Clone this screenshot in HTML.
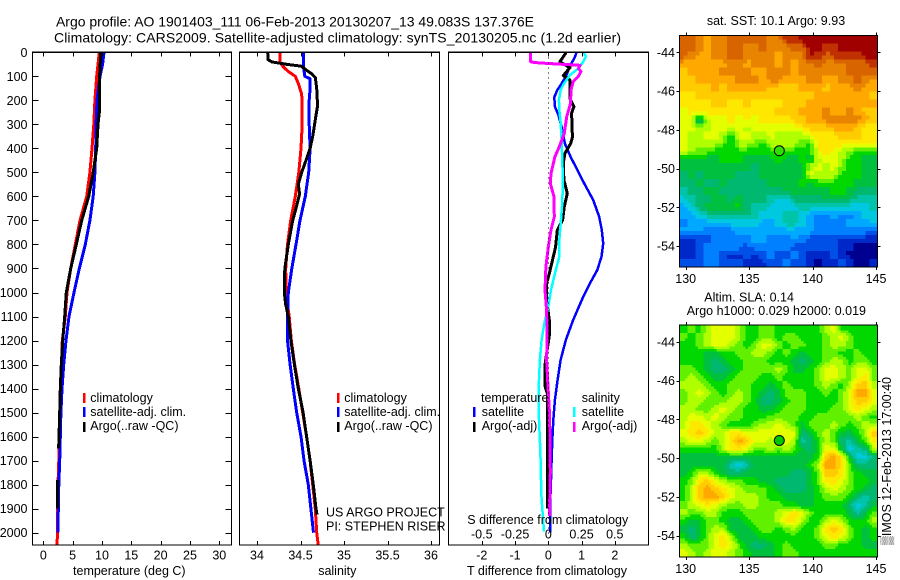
<!DOCTYPE html>
<html lang="en">
<head>
<meta charset="utf-8">
<title>Argo profile 1901403_111</title>
<style>
html,body{margin:0;padding:0;background:#fff;}
#figure{display:block;width:900px;height:580px;font-family:"Liberation Sans",sans-serif;fill:#000;}
#figure text{font-size:12.5px;}
#figure text.title{font-size:14px;}
</style>
</head>
<body>
<svg id="figure" xmlns="http://www.w3.org/2000/svg" width="900" height="580" viewBox="0 0 900 580">
  <g id="maps"></g>
  <g id="lines"></g>
  <g id="axes"></g>
  <g>
    <text class="title" x="56" y="26.5" textLength="478">Argo profile: AO 1901403_111 06-Feb-2013 20130207_13 49.083S 137.376E</text>
    <text class="title" x="54" y="42.5" textLength="567">Climatology: CARS2009. Satellite-adjusted climatology: synTS_20130205.nc (1.2d earlier)</text>
    <text x="776" y="25" text-anchor="middle">sat. SST: 10.1 Argo: 9.93</text>
    <text x="704.3" y="301.7">Altim. SLA: 0.14</text>
    <text x="686.7" y="315">Argo h1000: 0.029 h2000: 0.019</text>
    <text x="129.3" y="575" text-anchor="middle">temperature (deg C)</text>
    <text x="337.3" y="575" text-anchor="middle">salinity</text>
    <text x="547" y="575" text-anchor="middle">T difference from climatology</text>
    <text x="467.3" y="524">S difference from climatology</text>
    <text x="326" y="516.7">US ARGO PROJECT</text>
    <text x="326" y="530.7">PI: STEPHEN RISER</text>
    <text transform="translate(891,545) rotate(-90)">▒IMOS 12-Feb-2013 17:00:40</text>
  </g>
  <g>
    <rect x="83" y="393" width="2.5" height="10" fill="#f00"/>
    <rect x="83" y="407" width="2.5" height="10" fill="#00f"/>
    <rect x="83" y="422" width="2.5" height="10" fill="#000"/>
    <text x="90.3" y="402">climatology</text>
    <text x="90.3" y="416">satellite-adj. clim.</text>
    <text x="90.3" y="430">Argo(..raw -QC)</text>
  </g>
  <g>
    <rect x="337" y="393" width="2.5" height="10" fill="#f00"/>
    <rect x="337" y="407" width="2.5" height="10" fill="#00f"/>
    <rect x="337" y="422" width="2.5" height="10" fill="#000"/>
    <text x="344.3" y="402">climatology</text>
    <text x="344.3" y="416">satellite-adj. clim.</text>
    <text x="344.3" y="430">Argo(..raw -QC)</text>
  </g>
  <g>
    <rect x="473" y="407" width="2.5" height="10" fill="#00f"/>
    <rect x="473" y="422" width="2.5" height="10" fill="#000"/>
    <rect x="573" y="407" width="2.5" height="10" fill="#0ff"/>
    <rect x="573" y="422" width="2.5" height="10" fill="#f0f"/>
    <text x="481" y="402">temperature</text>
    <text x="481.7" y="416">satellite</text>
    <text x="481.7" y="430">Argo(-adj)</text>
    <text x="581.7" y="402">salinity</text>
    <text x="581.7" y="416">satellite</text>
    <text x="581.7" y="430">Argo(-adj)</text>
  </g>
</svg>
<script>
// ---------- tick labels ----------
const depthTicks = [0,100,200,300,400,500,600,700,800,900,1000,1100,1200,1300,1400,1500,1600,1700,1800,1900,2000];
const tempTicks = [0,5,10,15,20,25,30];
const salTicks = [34,34.5,35,35.5,36];
const salTickLabels = ["34","34.5","35","35.5","36"];
const dtTicks = [-2,-1,0,1,2];
const dsTicks = [-0.5,-0.25,0,0.25,0.5];
const dsTickLabels = ["-0.5","-0.25","0","0.25","0.5"];
const lonTicks = [130,135,140,145];
const latTicks = [-44,-46,-48,-50,-52,-54];

// ---------- temperature profiles ----------
const tempClimDepth = [0,100,200,300,400,500,600,700,800,900,1000,1100,1200,1300,1400,1500,1600,1700,1800,1900,2000,2053];
const tempClim = [9.55,9.1,8.8,8.6,8.3,7.95,7.4,6.25,5.45,4.67,4.04,3.75,3.24,3.1,2.9,2.85,2.7,2.65,2.5,2.45,2.45,2.3];
const tempSatDepth = [0,50,100,200,300,400,500,600,700,800,900,1000,1100,1200,1300,1400,1500,1600,1700,1800,1900,2000];
const tempSat = [10.35,10.1,9.66,9.15,9,8.93,8.8,8.5,7.95,7.16,6.14,5.23,4.38,3.87,3.47,3.19,3,2.9,2.8,2.65,2.55,2.5];
const tempArgoDepth = [0,50,100,150,200,250,300,400,500,600,700,800,900,1000,1100,1200,1300,1400,1500,1600,1650,1700,1780,1900];
const tempArgo = [9.78,9.7,9.6,9.55,9.6,9.55,9.32,9.1,8.5,7.73,6.54,5.63,4.67,3.92,3.64,3.3,3.07,2.9,2.8,2.67,2.6,null,2.39,2.39];

// ---------- salinity profiles ----------
const salClimDepth = [0,40,60,80,100,130,170,200,300,400,500,600,700,800,900,1000,1100,1200,1300,1400,1500,1600,1700,1800,1900,2000,2053];
const salClim = [34.264,34.264,34.3,34.36,34.44,34.475,34.51,34.52,34.52,34.506,34.48,34.44,34.387,34.35,34.33,34.333,34.37,34.394,34.433,34.48,34.525,34.57,34.61,34.64,34.67,34.686,34.705];
const salSatDepth = [0,50,75,100,110,150,200,300,400,500,600,700,800,900,1000,1100,1200,1300,1400,1500,1600,1700,1800,1900,2000];
const salSat = [34.532,34.532,34.54,34.55,34.61,34.61,34.6,34.6,34.61,34.594,34.555,34.494,34.448,34.4,34.36,34.35,34.35,34.38,34.417,34.456,34.506,34.54,34.59,34.62,34.65];
const salArgoDepth = [0,30,40,50,58,75,90,105,150,200,230,270,350,400,450,500,550,590,650,700,800,900,1000,1050,1100,1200,1300,1400,1500,1600,1700,1800,1900,1925];
const salArgo = [34.123,34.127,34.169,34.34,34.51,34.57,34.63,34.67,34.686,34.693,34.693,34.675,34.64,34.61,34.563,34.514,34.475,34.49,34.448,34.41,34.36,34.32,34.314,34.33,34.36,34.39,34.43,34.475,34.53,34.57,34.61,34.647,34.678,34.69];

// ---------- difference profiles ----------
const dtSatDepth = [0,20,45,75,100,130,157,187,226,260,310,380,435,476,546,615,685,740,796,851,907,962,1018,1114,1197,1281,1364,1447,1531,1614,1697,1780,1864,1947,2000];
const dtSat = [0.85,0.8,0.7,0.6,0.53,0.4,0.27,0.18,0.2,0.3,0.4,0.5,0.67,0.82,1.08,1.35,1.53,1.61,1.65,1.6,1.47,1.25,1.05,0.75,0.53,0.37,0.28,0.2,0.15,0.12,0.1,0.08,0.06,0.06,0.06];
const dtArgoDepth = [0,4,39,64,97,115,192,226,254,330,351,380,421,462,532,587,643,698,740,810,851,921,962,1032,1114,1180,1300,1390,1420,1900];
const dtArgo = [0.52,0.52,0.35,0.65,0.45,0.65,0.65,0.77,0.7,0.72,0.73,0.67,0.5,0.45,0.47,0.57,0.48,0.43,0.27,0.22,0.15,0.03,-0.05,-0.05,0.03,0.03,-0.1,-0.1,-0.03,-0.03];
const dsSatDepth = [0,17,39,67,95,130,157,199,240,296,365,504,574,643,712,782,851,921,990,1060,1114,1197,1281,1364,1447,1531,1614,1697,1780,1864,1947,1995];
const dsSat = [0.263,0.283,0.263,0.226,0.163,0.118,0.093,0.08,0.083,0.093,0.1,0.108,0.108,0.103,0.093,0.083,0.083,0.05,0.02,0,-0.025,-0.05,-0.063,-0.07,-0.073,-0.07,-0.063,-0.058,-0.055,-0.05,-0.038,-0.033];
const dsArgoDepth = [0,39,43,48,54,67,80,100,122,157,212,268,337,393,435,504,546,601,685,740,810,893,990,1074,1170,1281,1414,1497,1614,1750,1930];
const dsArgo = [-0.133,-0.133,-0.1,0.038,0.238,0.226,0.245,0.226,0.188,0.17,0.168,0.138,0.12,0.083,0.05,0.02,0.015,0.043,0.045,0.02,0,-0.018,-0.025,-0.013,-0.008,-0.013,0,0.008,0.013,0.015,0.008];

// ---------- map colour levels (0 coldest/lowest .. 19 warmest/highest) ----------
const sstRows = [
[17,17,16,15,16,16,17,17,17,17,17,16,16,18,18,19,19,19,19,19,19,19,19,19,19],
[17,17,16,15,16,16,17,17,16,16,17,16,16,16,17,17,19,19,18,18,19,19,19,19,19],
[17,16,15,15,16,16,17,17,16,16,16,16,15,16,16,16,19,18,17,18,18,18,18,19,19],
[15,15,15,15,15,15,16,16,15,16,16,16,15,16,15,16,16,17,16,16,16,17,17,17,18],
[14,15,15,15,15,16,16,16,16,15,15,16,16,16,15,16,16,16,16,16,16,17,17,17,17],
[14,14,15,15,15,15,15,16,16,16,15,16,16,15,15,15,16,16,15,15,16,16,17,16,15],
[14,14,14,14,15,14,15,15,15,15,15,14,14,14,14,15,15,15,14,15,15,15,16,15,15],
[13,13,14,14,14,14,14,14,14,14,14,14,14,14,14,14,14,15,15,15,15,15,15,15,14],
[13,13,13,13,14,14,13,13,14,13,13,13,13,14,14,14,15,15,15,15,15,15,15,15,15],
[12,13,13,13,13,13,13,13,13,13,13,13,14,14,14,15,15,15,16,15,15,16,15,14,14],
[12,12,6,11,12,12,13,12,13,12,13,13,13,13,14,14,15,15,16,16,16,16,16,15,14],
[12,12,11,11,12,12,12,12,11,12,12,12,12,12,12,13,14,14,14,15,15,15,14,13,13],
[12,11,11,12,12,11,8,12,12,11,11,12,11,11,11,11,12,13,13,13,14,14,14,13,13],
[12,11,11,11,11,10,8,11,11,10,9,11,11,11,11,10,9,13,13,13,13,13,13,13,13],
[12,11,10,10,9,9,9,9,9,9,9,9,10,9,9,9,9,12,14,12,11,10,9,9,9],
[8,8,8,8,8,9,9,9,8,8,8,8,9,8,8,9,8,11,12,12,11,9,9,8,8],
[8,8,8,8,8,8,8,8,8,7,8,8,8,8,8,8,11,12,11,12,10,9,9,8,8],
[7,8,7,8,8,8,8,7,7,7,8,8,8,8,8,8,12,11,11,11,9,9,9,8,8],
[7,7,8,7,7,8,7,7,7,7,7,8,8,8,8,9,8,9,9,9,9,9,8,8,8],
[6,7,7,8,8,7,7,7,7,7,7,7,7,8,8,8,8,8,8,9,9,8,7,7,7],
[5,6,7,7,8,8,7,8,7,7,7,6,5,5,7,7,7,7,8,8,8,7,6,6,6],
[4,5,7,8,8,8,8,9,7,6,6,5,5,5,5,6,6,6,5,5,5,5,5,5,6],
[4,4,5,6,6,6,6,6,7,6,5,5,5,6,6,5,4,3,3,4,3,3,4,5,5],
[3,4,4,4,4,4,5,5,5,5,4,4,5,6,6,5,4,3,3,3,3,4,4,4,5],
[4,4,4,3,3,3,3,4,4,4,4,4,4,4,4,4,4,3,3,3,3,3,3,3,2],
[1,1,2,2,3,3,3,3,3,4,4,3,3,3,4,3,2,2,2,2,1,1,1,1,1],
[1,1,2,3,3,3,3,3,2,3,3,3,3,3,2,2,2,2,2,2,1,1,0,0,0],
[1,1,2,3,3,2,1,1,2,1,2,3,2,2,3,2,1,1,1,2,1,0,0,0,0],
[2,2,2,3,3,2,2,2,1,1,1,2,2,3,2,2,1,0,1,1,2,1,0,0,1]
];
const slaRows = [
[9,10,9,11,12,12,12,11,9,9,10,10,9,9,9,9,9,9,11,12,9,9,9,9,9],
[10,9,10,11,12,12,12,11,9,9,10,10,9,10,10,9,9,9,10,11,12,10,9,9,9],
[9,9,10,11,12,12,11,10,9,10,12,12,10,9,10,10,9,9,10,11,11,10,9,9,9],
[9,9,9,8,8,9,9,10,10,11,11,10,9,10,9,8,9,9,10,10,9,9,10,9,9],
[9,9,9,8,7,8,9,9,10,10,10,9,9,9,8,7,8,9,10,11,11,9,10,10,9],
[10,10,9,8,7,7,8,9,10,10,10,10,11,10,8,8,9,10,12,12,11,10,12,12,10],
[10,11,10,9,8,8,9,10,10,10,9,9,10,9,9,9,9,10,12,12,11,10,12,13,10],
[11,11,11,10,9,9,10,10,10,9,9,8,9,10,9,9,9,10,11,10,9,11,14,14,11],
[10,11,12,11,10,9,10,11,10,9,8,7,8,10,10,10,9,9,10,9,10,12,15,15,12],
[10,11,11,10,10,10,11,11,10,9,7,7,8,9,10,10,9,9,9,9,10,12,14,14,12],
[11,11,10,10,11,12,11,10,9,9,8,8,9,10,10,10,9,9,9,10,10,12,13,12,11],
[11,12,12,11,12,11,10,10,9,9,9,10,10,10,10,9,9,10,10,10,10,10,11,10,9],
[11,13,13,12,11,10,9,9,9,10,11,11,12,11,10,8,10,10,10,11,10,9,10,11,11],
[12,13,14,13,11,11,13,13,12,12,12,12,12,12,12,7,8,10,11,10,8,8,9,11,14],
[11,12,12,11,10,11,13,15,14,12,12,11,12,12,11,6,7,9,11,10,7,6,8,10,13],
[9,9,9,9,9,11,13,13,12,10,10,11,10,11,10,8,7,9,12,12,8,5,6,7,11],
[8,8,8,8,8,8,8,8,8,8,8,8,8,8,8,8,8,9,14,15,13,8,5,5,7],
[8,8,8,8,8,8,6,5,6,8,8,8,8,8,8,8,9,11,15,15,13,10,7,7,7],
[8,9,11,11,9,8,7,7,8,8,8,8,8,8,7,7,8,10,14,14,13,10,9,8,8],
[9,10,13,14,12,11,10,10,9,9,8,8,7,7,7,7,8,10,13,13,12,10,9,9,8],
[9,11,14,15,14,13,12,11,10,10,10,9,8,7,7,7,8,9,11,12,11,10,9,8,7],
[9,11,14,15,15,14,12,11,11,11,10,9,9,8,8,8,8,9,10,10,10,9,7,6,7],
[10,11,12,13,12,11,10,10,11,11,10,10,10,9,9,8,8,9,9,9,9,7,5,6,8],
[11,10,10,11,11,9,9,9,10,10,10,10,11,12,13,12,10,9,9,9,9,8,6,8,10],
[9,8,8,10,10,9,8,8,9,10,10,10,11,13,13,11,9,9,11,12,11,9,9,9,11],
[8,7,8,10,11,11,8,8,8,9,10,10,9,10,11,9,9,10,13,14,13,10,9,8,9],
[9,7,8,10,12,13,11,8,8,8,9,9,9,9,9,9,9,10,12,13,12,10,9,8,9],
[11,10,10,10,12,13,12,10,8,7,7,8,9,10,9,9,9,9,10,10,9,9,9,8,8],
[12,11,10,11,12,12,11,10,9,8,8,8,9,10,10,9,9,9,9,9,9,9,9,9,9]
];
const colourScale = ["#000090","#0028c8","#0050e8","#0080ff","#00a8ff","#00c8e0","#00c4a8","#00b870","#00c040","#00d800","#60f000","#b0ff00","#e4ff00","#ffe800","#ffcc00","#ffa800","#e88400","#d86400","#c03000","#a00000"];
const argoLon = 137.376;
const argoLat = -49.083;

// ---------- axis functions ----------
const NS = "http://www.w3.org/2000/svg";
const panelTop = 52.3, panelBottom = 545;
const yDepth = d => 52.3 + 0.2402 * d;
const xTemp = t => 43.3 + 5.867 * t;
const xSal = s => 257 + 87 * (s - 34);
const xDT = t => 548.3 + 33.25 * t;
const xDS = s => 548.3 + 133 * s;
const xLon = lon => 685.7 + 12.69 * (lon - 130);
const yLat1 = lat => 52.3 + 19.37 * (-44 - lat);
const yLat2 = lat => 342 + 19.37 * (-44 - lat);

const mapsG = document.getElementById("maps");
const linesG = document.getElementById("lines");
const axesG = document.getElementById("axes");

function shape(tag, parent, attrs) {
  const el = document.createElementNS(NS, tag);
  for (const k in attrs) el.setAttribute(k, attrs[k]);
  parent.appendChild(el);
  return el;
}
function tickLine(parent, x1, y1, x2, y2) {
  const el = shape("line", parent, {x1: x1, y1: y1, x2: x2, y2: y2, stroke: "#000", "stroke-width": 1, "shape-rendering": "crispEdges"});
  
  
  return el;
}
function tickText(parent, str, x, y, anchor) {
  const el = shape("text", parent, {x: x, y: y, "text-anchor": anchor});
  el.textContent = str;
  
  
  return el;
}
function frame(parent, x, y, w, h) {
  const el = shape("rect", parent, {x: x, y: y, width: w, height: h, fill: "none", stroke: "#000", "stroke-width": 1.2, "shape-rendering": "crispEdges"});
  
  
  return el;
}
function profile(depths, values, xFn, colour, width) {
  let d = "", pen = false;
  depths.forEach((dep, i) => {
    if (values[i] === null) { pen = false; return; }
    d += (pen ? "L" : "M") + xFn(values[i]).toFixed(1) + " " + yDepth(dep).toFixed(1);
    pen = true;
  });
  const el = shape("path", linesG, {d: d, fill: "none", stroke: colour, "stroke-width": width, "stroke-linejoin": "round", "shape-rendering": "crispEdges"});
  
  
  return el;
}
// Draws each data cell as sub x sub blocks, blended with its neighbours
// so the coarse grid shows the soft gradients of the satellite field.
function sampleLevel(rows, fr, fc) {
  const r = Math.max(0, Math.min(rows.length - 1, fr));
  const c = Math.max(0, Math.min(rows[0].length - 1, fc));
  const r0 = Math.floor(r), c0 = Math.floor(c);
  const r1 = Math.min(rows.length - 1, r0 + 1), c1 = Math.min(rows[0].length - 1, c0 + 1);
  const tr = r - r0, tc = c - c0;
  return (rows[r0][c0] * (1 - tc) + rows[r0][c1] * tc) * (1 - tr) +
         (rows[r1][c0] * (1 - tc) + rows[r1][c1] * tc) * tr;
}
function heatmap(rows, left, top, w, h, sub) {
  const nr = rows.length * sub, nc = rows[0].length * sub;
  for (let r = 0; r < nr; r++) {
    for (let c = 0; c < nc; c++) {
      const level = sampleLevel(rows, (r + 0.5) / sub - 0.5, (c + 0.5) / sub - 0.5);
      const x0 = left + w * c / nc, x1 = left + w * (c + 1) / nc;
      const y0 = top + h * r / nr, y1 = top + h * (r + 1) / nr;
      const el = shape("rect", mapsG, {x: x0.toFixed(2), y: y0.toFixed(2), width: (x1 - x0 + 0.4).toFixed(2), height: (y1 - y0 + 0.4).toFixed(2), fill: colourScale[Math.round(level)], "shape-rendering": "crispEdges"});
      
      
    }
  }
}

// ---------- profile panels ----------
const panels = [
  {left: 32.5, right: 231.5},
  {left: 239.5, right: 439.5},
  {left: 448.5, right: 648.5}
];
panels.forEach(p => frame(axesG, p.left, panelTop, p.right - p.left, panelBottom - panelTop));

depthTicks.forEach(d => {
  const y = Math.round(yDepth(d)) + 0.5;
  tickLine(axesG, panels[0].left, y, panels[0].left + 6, y);
  tickLine(axesG, panels[0].right - 6, y, panels[0].right, y);
  tickText(axesG, String(d), 27.5, yDepth(d) + 4.5, "end");
});
tempTicks.forEach(t => {
  const x = Math.round(xTemp(t)) + 0.5;
  tickLine(axesG, x, panelTop, x, panelTop + 4);
  tickLine(axesG, x, panelBottom - 4, x, panelBottom);
  tickText(axesG, String(t), xTemp(t), 559.3, "middle");
});
salTicks.forEach((s, i) => {
  const x = Math.round(xSal(s)) + 0.5;
  tickLine(axesG, x, panelTop, x, panelTop + 4);
  tickLine(axesG, x, panelBottom - 4, x, panelBottom);
  tickText(axesG, salTickLabels[i], xSal(s), 559.3, "middle");
});
dtTicks.forEach(t => {
  const x = Math.round(xDT(t)) + 0.5;
  tickLine(axesG, x, panelTop, x, panelTop + 4);
  tickLine(axesG, x, panelBottom - 4, x, panelBottom);
  tickText(axesG, String(t), xDT(t), 559.3, "middle");
});
dsTicks.forEach((s, i) => {
  tickText(axesG, dsTickLabels[i], xDS(s), 538.3, "middle");
});
const zeroLine = shape("line", axesG, {x1: 548.5, y1: panelTop, x2: 548.5, y2: 540, stroke: "#000", "stroke-width": 1, "stroke-dasharray": "1 4", "shape-rendering": "crispEdges"});



profile(tempClimDepth, tempClim, xTemp, "#f00", 3);
profile(tempSatDepth, tempSat, xTemp, "#00f", 3);
profile(tempArgoDepth, tempArgo, xTemp, "#000", 3);
profile(salClimDepth, salClim, xSal, "#f00", 3);
profile(salSatDepth, salSat, xSal, "#00f", 3);
profile(salArgoDepth, salArgo, xSal, "#000", 3);
profile(dtSatDepth, dtSat, xDT, "#00f", 2.5);
profile(dtArgoDepth, dtArgo, xDT, "#000", 3);
profile(dsSatDepth, dsSat, xDS, "#0ff", 2.5);
profile(dsArgoDepth, dsArgo, xDS, "#f0f", 3);

// ---------- maps ----------
const mapLeft = 679.5, mapRight = 877.5;
const mapDefs = [
  {rows: sstRows, sub: 2, top: 35.5, bottom: 267, yFn: yLat1, xLabelY: 283, dot: "#30e000"},
  {rows: slaRows, sub: 3, top: 325, bottom: 557, yFn: yLat2, xLabelY: 573, dot: "#00c800"}
];
mapDefs.forEach(m => {
  heatmap(m.rows, mapLeft, m.top, mapRight - mapLeft, m.bottom - m.top, m.sub);
  frame(axesG, mapLeft, m.top, mapRight - mapLeft, m.bottom - m.top);
  lonTicks.forEach(lon => {
    const x = Math.round(xLon(lon)) + 0.5;
    tickLine(axesG, x, m.top - 3, x, m.top);
    tickLine(axesG, x, m.bottom, x, m.bottom + 3);
    tickText(axesG, String(lon), xLon(lon), m.xLabelY, "middle");
  });
  latTicks.forEach(lat => {
    const y = Math.round(m.yFn(lat)) + 0.5;
    tickLine(axesG, mapLeft - 3, y, mapLeft, y);
    tickLine(axesG, mapRight, y, mapRight + 3, y);
    tickText(axesG, String(lat), 675, m.yFn(lat) + 4.5, "end");
  });
  const marker = shape("circle", axesG, {cx: xLon(argoLon), cy: m.yFn(argoLat), r: 5, fill: m.dot, stroke: "#000", "stroke-width": 1});
  
  
});
</script>
</body>
</html>
